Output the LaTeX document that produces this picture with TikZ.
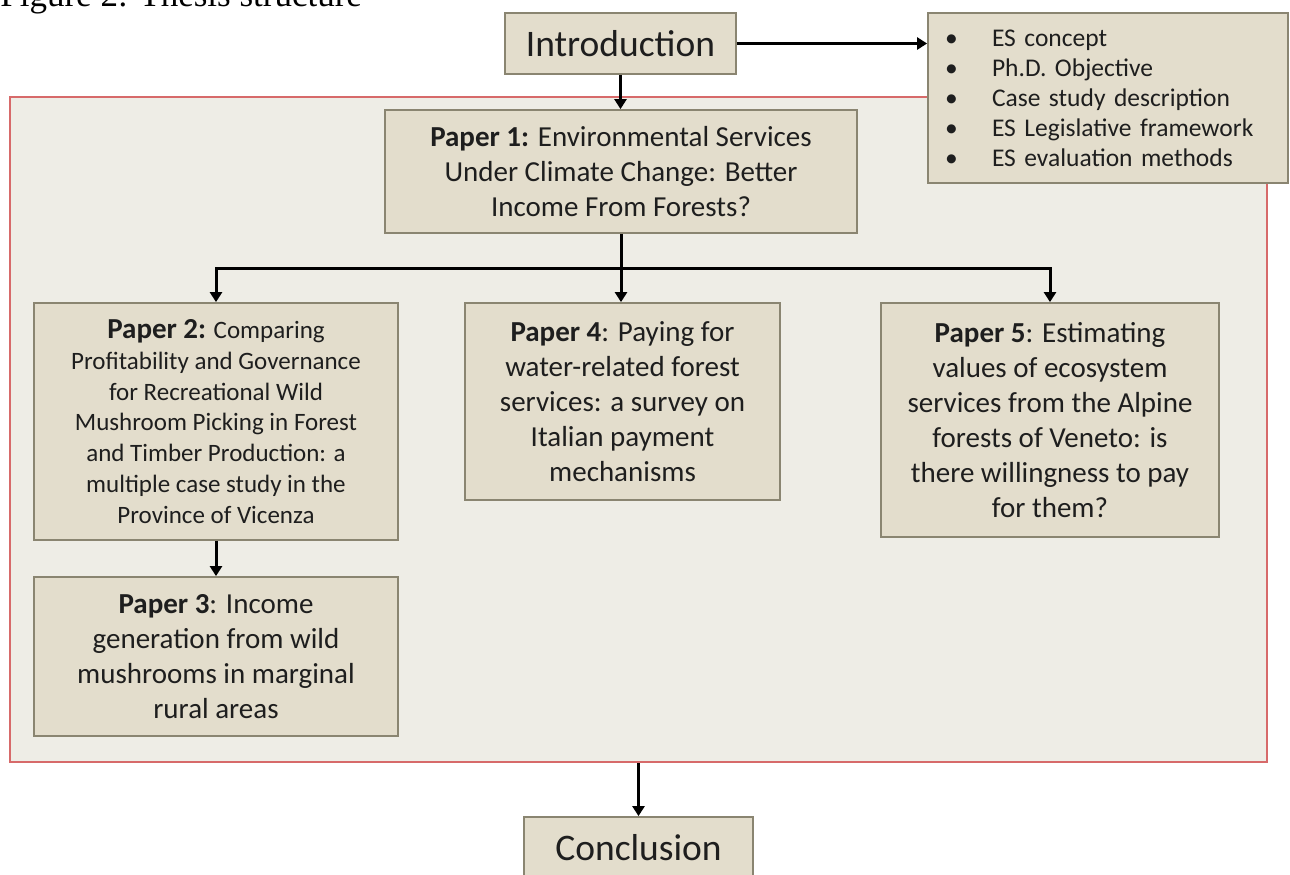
\documentclass[tikz,border=0pt]{standalone}
\usepackage{fontspec}
\setmainfont{Carlito}
\newfontfamily\captionfont{Liberation Serif}
\usetikzlibrary{arrows.meta}

\definecolor{boxfill}{HTML}{E3DDCC}
\definecolor{boxedge}{HTML}{8A8571}
\definecolor{framefill}{HTML}{EEEDE6}
\definecolor{framered}{HTML}{D76A6A}
\definecolor{ink}{HTML}{1E1E1E}

\begin{document}
\begin{tikzpicture}[x=0.5pt, y=-0.5pt,
    box/.style={rectangle, draw=boxedge, line width=0.9pt, fill=boxfill, inner sep=0pt, align=center, text=ink},
    paper/.style={box, font=\fontsize{14.5}{17.5}\selectfont},
    arr/.style={-{Triangle[length=5pt,width=6pt]}, line width=1.5pt, line join=miter}]
    \path[use as bounding box, fill=white] (0,0) rectangle (1290,874);

    % caption, cut at the top of the page
    \node [anchor=base west, inner sep=0pt, font=\captionfont\fontsize{17.5}{20}\selectfont] (caption) at (0,6) {Figure 2: Thesis structure};

    % the frame round the papers
    \node [rectangle, draw=framered, line width=1pt, fill=framefill, minimum width=628.5pt, minimum height=332.5pt] (frame) at (638.5,429.5) {};

    \node [box, minimum width=115.5pt, minimum height=30.5pt, font=\fontsize{18.75}{22}\selectfont] (intro) at (620.5,43.5) {Introduction};
    \node [box, align=left, text width=163pt, inner xsep=8.5pt, minimum height=85pt, font=\fontsize{12.75}{15}\selectfont] (topics) at (1108,98)
        {\makebox[23.5pt][l]{•}ES concept\\
         \makebox[23.5pt][l]{•}Ph.D. Objective\\
         \makebox[23.5pt][l]{•}Case study description\\
         \makebox[23.5pt][l]{•}ES Legislative framework\\
         \makebox[23.5pt][l]{•}ES evaluation methods};

    \node [paper, minimum width=236pt, minimum height=61.5pt] (paper1) at (621,171.5)
        {\textbf{Paper 1:} Environmental Services\\ Under Climate Change: Better\\ Income From Forests?};
    \node [paper, minimum width=182pt, minimum height=118.5pt, font=\fontsize{12.5}{15.35}\selectfont] (paper2) at (216,421.5)
        {\textbf{\fontsize{14.5}{15.35}\selectfont Paper 2:} Comparing\\ Profitability and Governance\\ for Recreational Wild\\ Mushroom Picking in Forest\\ and Timber Production: a\\ multiple case study in the\\ Province of Vicenza};
    \node [paper, minimum width=182pt, minimum height=79.5pt] (paper3) at (216,656.5)
        {\textbf{Paper 3}: Income\\ generation from wild\\ mushrooms in marginal\\ rural areas};
    \node [paper, minimum width=157.5pt, minimum height=98.5pt] (paper4) at (622.5,401.5)
        {\textbf{Paper 4}: Paying for\\ water-related forest\\ services: a survey on\\ Italian payment\\ mechanisms};
    \node [paper, minimum width=169pt, minimum height=117pt] (paper5) at (1050,420)
        {\textbf{Paper 5}: Estimating\\ values of ecosystem\\ services from the Alpine\\ forests of Veneto: is\\ there willingness to pay\\ for them?};

    \node [box, minimum width=114.5pt, minimum height=30.5pt, font=\fontsize{18.75}{22}\selectfont] (concl) at (638.5,847.5) {Conclusion};

    \coordinate (fork) at (621,268);

    \draw [arr] (intro.east) -- (intro.east -| topics.west);
    \draw [arr] (intro.south) -- (intro.south |- paper1.north);
    \draw [arr] (paper1.south) -- (paper1.south |- paper4.north);
    \draw [arr] (fork) -| (paper2.north);
    \draw [arr] (fork) -| (paper5.north);
    \draw [arr] (paper2) -- (paper3);
    \draw [arr] (frame.south -| concl.north) -- (concl.north);
\end{tikzpicture}
\end{document}
